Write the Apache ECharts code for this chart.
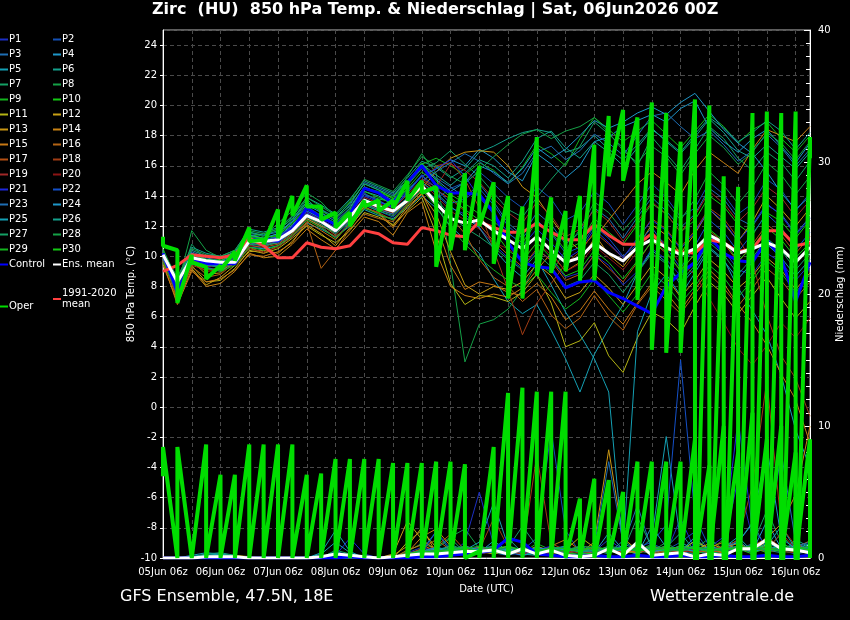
<!DOCTYPE html>
<html><head><meta charset="utf-8">
<script src="https://cdn.jsdelivr.net/npm/echarts@6/dist/echarts.min.js"></script>
<style>html,body{margin:0;padding:0;background:#000;}#c{width:850px;height:620px;}</style>
</head><body><div id="c"></div>
<script>
// ---- time axis ----
const stepHours = 6;
const dayLabels = ['05Jun 06z','06Jun 06z','07Jun 06z','08Jun 06z','09Jun 06z','10Jun 06z','11Jun 06z','12Jun 06z','13Jun 06z','14Jun 06z','15Jun 06z','16Jun 06z'];

// ---- members ----
const memberNames = ['P1','P2','P3','P4','P5','P6','P7','P8','P9','P10','P11','P12','P13','P14','P15','P16','P17','P18','P19','P20','P21','P22','P23','P24','P25','P26','P27','P28','P29','P30'];
const memberColors = ['#1c2fc4','#1450b4','#1e6eb4','#1e96c8','#14a0b4','#14a08c','#14a064','#14a046','#14b41e','#14c814','#b4b414','#c8a014','#c89614','#c88214','#c87814','#b46414','#b45014','#a03c14','#a02828','#8c1414','#1e28dc','#1450c8','#1e6eb4','#1e96c8','#14a0b4','#14a08c','#14a064','#14a046','#14b41e','#14c814'];

// 850 hPa temperature (°C) per member, 6-hourly
const tP1 = [10.2,7.8,9.6,9.3,9.0,9.6,10.8,10.5,11.2,12.0, 13.2,12.6,11.5,12.9,14.2,13.6,13.2,14.3,15.4,14.1, 13.2,12.8,11.9,10.8,9.9,9.2,10.4,9.8,8.6,8.9, 10.1,9.4,8.1,9.0,10.5,9.8,8.7,9.5,11.0,10.4, 9.1,8.8,10.2,9.6,8.4,9.5];
const tP2 = [9.8,7.4,9.9,9.6,9.3,9.9,11.3,11.0,10.8,11.5, 12.5,12.0,11.2,12.3,13.4,13.0,12.6,13.5,14.4,13.8, 14.5,14.9,15.6,14.8,13.9,13.2,14.6,13.8,12.4,12.9, 14.3,13.5,12.1,13.4,14.8,13.9,12.6,13.2,14.9,14.1, 12.8,13.5,15.1,14.4,13.0,14.2];
const tP3 = [10.4,8.2,10.3,9.9,9.7,10.1,11.5,11.4,11.6,12.3, 13.6,13.1,12.4,13.4,14.9,14.5,14.1,15.0,16.0,15.2, 14.6,13.9,14.8,13.6,12.2,11.4,12.9,12.1,10.8,11.6, 13.2,12.5,11.2,12.6,13.9,13.0,11.9,12.8,14.5,13.8, 12.5,12.0,13.4,12.8,11.5,12.6];
const tP4 = [10.0,8.4,10.1,9.8,9.6,10.0,11.2,11.1,11.3,12.1, 13.0,12.5,12.1,13.0,14.3,14.0,13.4,14.4,15.3,15.8, 16.4,16.0,17.1,16.5,15.6,15.0,16.8,16.1,15.2,16.0, 17.6,17.9,18.6,19.0,19.4,18.9,19.8,20.3,18.5,17.6, 16.9,17.8,18.4,17.3,16.2,17.5];
const tP5 = [9.6,7.6,9.5,9.2,9.1,9.5,10.6,10.5,10.7,11.3, 12.2,11.8,11.3,12.0,13.1,12.7,12.5,13.2,14.0,13.2, 12.0,11.1,10.2,8.5,7.0,6.2,6.8,5.1,3.2,1.0, 3.5,5.2,6.8,8.9,10.4,9.6,8.1,9.2,10.6,9.8, 7.9,6.4,4.8,2.1,-1.5,-4.0];
const tP6 = [10.3,8.6,10.6,10.2,10.0,10.4,11.8,11.6,11.9,12.6, 13.9,13.4,12.8,13.8,15.0,14.6,14.2,15.2,16.3,15.9, 15.2,15.8,16.9,17.3,17.8,18.2,18.4,18.2,16.9,17.2, 18.0,17.1,16.4,17.4,18.5,17.6,16.8,17.9,19.1,18.2, 17.0,16.5,17.4,16.6,15.8,16.9];
const tP7 = [9.9,8.1,10.8,9.7,9.3,9.7,11.4,11.2,11.5,12.4, 13.8,12.9,12.0,12.8,14.1,13.8,13.6,14.7,15.8,16.2, 17.0,16.1,15.3,14.2,13.1,12.6,13.9,15.1,16.2,17.3, 18.9,18.1,17.2,16.0,17.9,16.8,15.7,17.1,18.6,17.8, 16.5,15.7,16.9,16.2,15.0,16.3];
const tP8 = [10.1,8.0,11.7,10.4,9.9,10.2,11.6,11.3,12.2,13.0, 14.2,13.6,12.6,13.3,14.6,14.2,13.9,15.3,16.8,15.5, 9.5,3.0,5.5,5.8,6.5,7.8,9.6,8.9,10.4,11.8, 13.6,12.9,11.7,12.8,14.2,13.6,12.4,13.8,15.6,14.7, 13.5,14.6,16.2,15.4,14.1,15.3];
const tP9 = [9.7,7.9,9.8,9.4,9.5,9.9,11.1,11.0,11.4,12.2, 13.1,12.7,12.2,13.1,14.5,14.3,13.9,15.0,16.1,16.5, 16.0,15.4,16.2,15.7,14.8,15.9,17.4,16.8,16.0,17.8, 19.2,18.4,17.6,18.3,19.0,18.1,17.2,18.3,19.4,18.6, 17.5,18.4,18.9,17.8,16.9,18.0];
const tP10 = [10.5,8.3,10.0,9.6,9.8,10.3,11.3,11.5,11.8,12.5, 13.5,13.0,12.5,13.6,14.8,14.4,13.8,14.9,16.2,15.0, 14.1,13.5,12.8,12.3,11.5,10.9,12.3,11.6,10.4,10.9, 12.5,11.6,10.8,12.1,13.5,12.8,11.6,12.4,14.0,13.3, 12.1,11.4,12.9,12.3,11.2,12.4];
const tP11 = [9.5,7.6,9.4,8.3,8.4,9.2,10.4,10.2,10.5,11.2, 12.0,11.4,10.9,11.7,12.9,12.6,12.1,13.0,13.9,11.5, 8.2,6.8,7.4,7.3,7.0,7.6,8.8,6.9,4.0,4.4, 5.6,3.4,2.3,4.6,6.3,5.8,4.9,6.7,8.3,7.5, 6.2,7.4,8.6,7.2,5.9,7.0];
const tP12 = [9.9,7.7,9.2,8.1,8.6,9.4,10.3,10.4,10.2,11.0, 12.1,11.5,10.7,11.9,13.2,12.9,12.0,13.3,14.1,12.8, 10.3,8.1,7.5,8.0,7.8,8.3,9.5,8.7,7.2,7.6, 8.8,7.9,6.8,8.1,9.4,8.6,7.3,8.4,9.8,9.0, 7.9,8.7,9.9,9.1,7.8,8.9];
const tP13 = [10.0,7.2,9.7,8.8,8.9,9.8,10.9,10.7,10.9,11.6, 12.5,12.0,11.6,12.4,13.5,13.1,12.8,13.6,14.5,15.6, 16.5,16.9,17.0,16.9,16.0,14.6,13.9,12.5,11.2,10.4, 11.5,10.1,9.3,10.6,12.1,11.4,10.2,11.5,13.1,12.2, 11.0,12.3,14.0,13.1,12.0,13.2];
const tP14 = [9.4,7.0,9.1,8.0,8.2,9.0,10.2,9.9,10.0,10.8, 11.8,11.1,10.5,11.5,12.6,12.3,11.4,12.9,13.6,10.3, 8.0,7.4,7.2,7.5,7.3,7.9,9.1,10.2,9.0,9.6, 11.2,12.4,13.6,14.8,15.6,14.9,14.1,15.7,16.9,16.2, 15.5,17.1,18.4,18.0,17.6,18.6];
const tP15 = [9.6,6.8,9.0,8.3,8.5,9.1,10.1,10.0,10.3,10.9, 12.3,11.7,11.1,12.2,13.3,12.8,11.9,13.1,14.2,12.1, 9.4,7.8,8.3,8.1,7.6,7.4,8.2,7.3,5.8,6.4, 7.7,6.5,5.5,6.9,8.2,7.6,6.4,7.8,9.1,8.2, 6.8,5.6,4.1,2.2,0.5,-2.4];
const tP16 = [9.8,7.1,9.3,8.6,8.8,9.6,10.6,10.2,10.7,11.4, 12.2,9.2,10.4,11.8,12.8,12.5,12.3,13.4,14.3,13.6, 12.6,11.5,9.8,8.6,8.0,7.0,7.8,6.1,5.2,5.9, 7.4,6.0,5.1,6.8,8.0,7.1,6.2,7.5,8.8,7.9, 6.7,7.9,9.2,8.4,7.2,8.3];
const tP17 = [10.1,7.5,9.6,9.0,9.1,9.7,10.7,10.6,10.8,11.5, 12.6,12.1,11.4,12.5,13.6,13.2,12.9,13.9,15.0,14.4, 13.8,13.0,12.1,11.0,10.1,9.3,10.5,9.7,8.4,8.8, 10.1,9.2,8.3,9.6,11.0,10.2,9.1,10.1,11.7,10.9, 9.6,10.8,12.1,11.4,10.2,11.3];
const tP18 = [9.7,7.3,9.4,9.1,9.2,9.5,10.5,10.3,10.6,11.3, 12.4,11.9,11.3,12.1,13.2,12.9,12.4,13.5,14.8,16.0, 16.2,15.1,13.2,10.4,7.8,4.8,6.9,8.2,9.5,10.3, 11.6,10.8,9.9,11.1,12.5,11.8,10.6,11.7,13.2,12.5, 11.2,9.6,6.1,3.4,1.9,-0.6];
const tP19 = [10.2,7.8,9.8,9.3,9.4,9.9,11.0,10.9,11.1,11.9, 12.9,12.4,11.9,12.7,13.9,13.5,13.1,14.1,15.1,14.6, 16.1,15.7,14.9,13.8,12.9,12.2,13.6,12.7,11.3,11.8, 13.1,12.3,11.0,12.3,13.6,12.8,11.6,12.7,14.3,13.5, 12.3,13.2,14.6,13.9,12.6,13.7];
const tP20 = [9.9,7.7,9.7,9.5,9.3,9.8,10.9,10.8,11.0,11.7, 12.7,12.2,11.7,12.5,13.6,13.2,12.8,13.7,14.9,14.0, 13.0,12.4,11.8,10.9,10.5,9.8,10.9,10.1,9.0,9.5, 10.7,9.9,9.1,10.3,11.6,10.8,9.5,8.8,7.2,5.6, 3.9,2.8,4.1,5.6,4.6,5.9];
const tP21 = [10.0,7.9,9.9,9.6,9.5,9.9,11.1,11.0,11.2,11.9, 12.9,12.4,11.9,12.9,14.0,13.6,13.3,14.2,15.3,15.8, 16.4,15.3,13.9,12.8,11.6,10.7,11.8,10.9,9.8,10.4, 11.8,10.9,9.9,11.2,12.4,11.7,10.5,11.6,13.1,12.3, 11.0,12.1,13.5,12.7,11.4,12.5];
const tP22 = [10.3,8.2,10.0,9.7,9.6,10.0,11.2,11.1,11.3,12.0, 13.0,12.6,12.0,12.9,14.1,13.7,13.2,14.2,15.4,14.5, 13.5,13.8,14.5,13.4,12.0,11.2,12.4,11.5,10.2,10.6, 12.0,11.2,10.0,10.8,11.9,10.6,9.2,10.7,12.4,11.6, 10.3,11.5,12.8,11.9,10.4,11.6];
const tP23 = [9.8,7.9,9.6,9.4,9.3,9.7,10.9,10.7,11.0,11.8, 12.8,12.2,11.6,12.4,13.5,13.1,12.8,13.8,15.0,15.6, 16.2,16.8,16.3,15.5,14.8,15.5,16.9,17.3,16.4,17.0, 18.1,17.5,16.7,18.0,19.3,19.5,18.6,17.8,18.3,17.4, 16.3,17.0,18.1,17.2,16.0,17.1];
const tP24 = [10.1,8.3,10.2,9.8,9.7,10.1,11.4,11.2,11.5,12.3, 13.4,12.9,12.3,13.2,14.6,14.2,13.7,14.8,15.9,15.1, 14.3,14.9,16.0,15.6,14.9,15.8,17.2,16.5,17.1,18.0, 19.0,18.5,18.9,19.5,19.9,19.4,20.2,20.8,19.6,18.4, 17.5,16.8,15.6,14.2,13.1,14.0];
const tP25 = [9.9,7.8,9.7,9.4,9.4,9.8,11.0,10.8,11.1,11.8, 12.8,12.3,11.8,12.7,13.8,13.4,13.0,13.9,14.9,14.2, 13.3,12.6,11.9,10.5,9.4,8.6,9.8,8.1,6.3,4.8, 3.2,1.0,-9.5,5.0,7.6,8.8,7.4,8.9,10.5,9.7, 8.5,9.6,10.8,9.9,8.7,9.8];
const tP26 = [10.2,8.4,10.4,10.0,9.9,10.3,11.6,11.4,11.7,12.5, 13.6,13.1,12.6,13.5,14.8,14.4,14.0,15.0,16.1,15.4, 14.7,15.5,16.4,16.0,15.2,16.3,17.8,18.3,17.2,16.5, 17.6,16.9,16.0,17.2,18.4,17.7,16.9,18.1,19.2,18.5, 17.6,18.2,19.0,18.3,17.1,18.2];
const tP27 = [10.0,7.7,9.8,9.5,9.2,9.6,10.8,10.7,10.9,11.6, 12.6,12.1,11.5,12.3,13.4,13.0,12.7,13.6,14.6,13.8, 12.7,11.9,11.3,10.6,9.8,9.1,10.2,9.3,8.0,8.4, 9.6,8.8,7.6,8.9,10.2,9.5,8.3,9.4,10.9,10.1, 8.8,9.9,11.2,10.4,9.1,10.2];
const tP28 = [10.4,8.5,10.5,10.1,10.0,10.4,11.7,11.5,11.8,12.7, 13.9,13.3,12.7,13.7,15.1,14.7,14.3,15.4,16.6,16.0, 15.3,14.8,15.7,16.6,17.4,18.1,18.4,17.8,18.3,18.6, 19.2,18.2,17.0,16.2,17.3,16.6,15.4,16.8,18.0,17.2, 16.1,16.9,18.2,17.5,16.4,17.6];
const tP29 = [9.6,7.5,9.5,9.2,9.0,9.4,10.6,10.4,10.7,11.4, 12.4,11.9,11.2,12.1,13.2,12.8,12.4,13.4,14.4,13.3, 11.9,10.8,9.9,9.1,8.4,7.9,8.8,7.6,6.5,7.2, 8.5,7.4,6.3,7.5,8.9,8.1,6.9,8.0,9.4,8.6, 7.3,8.4,9.7,8.9,7.6,8.8];
const tP30 = [10.3,8.0,10.1,9.8,9.7,10.2,11.3,11.2,11.4,12.2, 13.3,12.7,12.2,13.0,14.3,13.9,13.5,14.5,15.6,14.8, 13.9,13.1,12.4,11.7,10.4,9.7,10.9,9.9,8.7,9.1, 10.4,9.6,8.5,9.7,11.0,10.3,9.0,10.2,11.8,11.0, 9.7,10.6,11.9,11.1,9.9,10.9];

// precipitation (mm) per member, 6-hourly
const pP1 = [0,0,0,0,0,0,0,0,0,0, 0,0,0.3,0.2,0,0,0,0.4,0.8,0.5, 0.3,1.2,5.0,1.0,0.4,0.2,0.6,0.3,0,0.2, 0.5,1.4,0.6,0.3,0.8,0.4,3.0,0.6,0.2,0.9, 6.0,1.5,0.5,0.8,0.3,0.6];
const pP2 = [0,0,0,0.1,0.1,0,0,0,0,0, 0,0,0,0,0,0,0,0,0.2,0.6, 0.4,0.3,0.8,0.5,0.9,0.6,1.5,9.7,2.1,0.4, 0.3,0.5,0.9,0.4,1.1,0.6,1.2,2.0,0.5,0.3, 0.7,0.4,1.2,0.6,0.3,0.5];
const pP3 = [0,0,0,0,0,0,0,0,0,0, 0,0,0.5,0.2,0,0,0,0.3,0.6,2.0, 0.5,0.2,0.6,0.4,0.2,0.5,0.3,0.8,0.4,0.2, 0.6,0.3,1.0,4.0,0.6,0.2,0.5,0.3,0.9,0.4, 0.6,1.1,0.8,8.0,1.2,0.6];
const pP4 = [0,0,0,0,0,0,0,0,0,0, 0,0,0,0,0,0,0,0,0,0.3, 0.6,0.9,0.4,1.3,0.5,0.2,0.4,0.3,0.6,0.8, 0.4,1.9,0.6,0.3,2.4,0.8,0.5,1.6,0.4,0.9, 1.3,0.5,2.8,0.7,1.0,0.4];
const pP5 = [0,0,0.2,0.4,0.3,0.1,0,0,0,0, 0,0.4,2.1,0.5,0,0,0,0,0.3,0.2, 0.4,0.6,1.2,4.2,0.9,0.3,0.2,0.5,0.9,0.3, 0.6,0.4,0.8,0.5,1.5,9.2,1.2,0.6,0.4,0.8, 1.6,0.5,0.9,2.4,0.7,1.1];
const pP6 = [0,0,0.1,0.3,0.4,0.2,0,0,0,0, 0,0,0.4,0.2,0,0,0,0.2,0.5,0.3, 1.0,0.6,0.3,0.8,1.5,0.4,0.3,0.9,0.5,0.2, 0.7,0.4,1.3,0.6,0.3,0.8,1.9,0.5,0.3,0.6, 1.2,2.7,0.6,0.4,1.4,0.8];
const pP7 = [0,0,0,0.2,0.3,0.2,0,0,0,0, 0,0,0.6,0.3,0,0,0,0.5,1.1,0.7, 1.5,0.4,0.3,0.6,0.8,2.4,0.9,0.4,0.3,0.6, 0.4,0.9,0.5,3.1,0.8,0.4,0.6,1.3,0.5,0.8, 0.6,1.0,3.6,1.2,0.5,0.9];
const pP8 = [0,0,0,0,0,0,0,0,0,0, 0,0,0.3,0.1,0,0,0,0.2,0.4,0.8, 1.6,2.2,0.7,0.4,0.3,0.5,0.8,0.3,0.5,0.9, 0.3,0.6,0.4,0.8,0.5,1.2,0.4,0.7,1.5,0.6, 0.9,0.4,0.7,1.8,0.5,0.7];
const pP9 = [0,0,0,0,0,0,0,0,0,0, 0,0,0,0,0,0,0,0.1,0.3,0.5, 0.9,0.4,0.6,0.3,0.7,0.4,1.1,0.6,0.3,0.4, 0.8,0.5,0.3,0.6,1.0,0.4,0.7,0.3,0.6,1.4, 0.5,0.8,0.4,1.1,0.6,0.3];
const pP10 = [0,0,0,0,0,0,0,0,0,0, 0,0,0,0,0,0,0,0.3,0.6,0.4, 0.8,0.5,0.3,0.7,0.4,0.6,0.3,0.5,0.8,0.4, 0.3,0.7,0.5,0.4,0.9,0.3,0.6,0.8,0.4,0.5, 0.7,0.3,0.9,0.5,0.4,0.6];
const pP11 = [0,0,0,0.1,0.2,0.1,0,0,0,0, 0,0,0,0,0,0,0,1.2,2.1,0.8, 0.5,0.7,0.4,0.6,0.9,0.5,0.4,0.8,0.6,1.6, 0.8,0.5,0.7,0.4,0.6,0.9,0.5,1.3,0.7,0.4, 0.8,0.6,1.0,0.5,0.7,0.4];
const pP12 = [0,0,0,0,0.1,0.2,0.1,0,0,0, 0,0,0,0,0,0,0.3,2.8,1.4,0.6, 0.4,0.3,0.9,0.5,0.7,0.4,0.6,0.3,0.8,0.5, 0.4,0.7,0.6,0.9,0.5,0.8,0.4,0.6,1.1,0.7, 0.5,0.9,0.6,0.8,0.4,0.7];
const pP13 = [0,0,0,0,0,0,0,0,0,0, 0,0,0,0,0,0,0.2,0.9,2.3,0.4, 0.6,0.8,0.5,0.3,0.6,0.4,0.9,0.5,0.7,0.4, 1.2,8.2,1.5,0.6,0.4,0.8,0.5,0.9,0.6,0.4, 0.7,0.5,1.3,0.6,0.9,0.5];
const pP14 = [0,0,0,0,0,0,0,0,0,0, 0,0,0,0,0,0,0,0.4,1.6,2.2, 0.9,0.5,0.4,0.6,0.3,0.8,0.5,0.4,0.7,0.5, 0.6,0.8,0.4,0.5,0.9,0.6,0.7,0.4,0.8,1.2, 0.6,0.9,1.5,2.6,4.8,10.0];
const pP15 = [0,0,0,0,0,0,0,0,0,0, 0,0,0,0,0,0,0,0.6,1.0,0.5, 0.3,0.6,0.8,0.4,0.5,0.7,0.3,0.9,1.4,0.6, 0.5,0.8,0.6,0.4,0.7,0.5,0.9,0.6,0.4,0.8, 1.1,0.6,0.8,0.5,0.9,0.7];
const pP16 = [0,0,0,0,0,0,0,0,0,0, 0,0,0,0,0,0,0,0.3,0.7,1.4, 0.6,0.4,0.5,0.8,0.6,0.3,0.7,0.5,0.4,0.6, 0.8,0.5,0.7,0.9,0.4,0.6,0.5,0.8,0.6,0.4, 0.9,0.7,0.5,0.6,0.8,1.3];
const pP17 = [0,0,0,0,0,0,0,0,0,0, 0,0,0,0,0,0,0,0.2,0.5,0.9, 1.8,0.6,0.3,0.5,0.4,0.7,0.5,0.3,0.6,0.8, 0.4,0.6,0.5,0.7,0.3,0.5,0.8,0.4,0.6,0.9, 0.5,0.7,1.6,0.8,0.6,0.4];
const pP18 = [0,0,0,0,0,0,0,0,0,0, 0,0,0,0,0,0,0,0.2,0.4,0.6, 0.5,0.9,0.6,3.0,0.8,0.5,7.8,1.1,0.6,0.4, 0.7,0.5,0.8,0.6,0.4,0.9,0.6,0.5,0.8,0.7, 1.4,5.5,13.5,2.4,0.9,0.6];
const pP19 = [0,0,0,0,0,0,0,0,0,0, 0,0,0,0,0,0,0,0.1,0.3,0.5, 0.7,0.4,0.6,0.9,0.5,0.3,0.6,0.8,0.4,0.5, 0.6,0.4,0.7,0.5,0.8,0.6,0.4,0.7,0.5,0.6, 0.8,0.9,0.6,1.9,0.7,0.5];
const pP20 = [0,0,0,0,0,0,0,0,0,0, 0,0,0,0,0,0,0,0,0.2,0.4, 0.6,0.3,0.5,0.7,0.4,0.6,0.5,0.3,0.7,0.4, 0.5,0.6,0.4,0.8,0.5,0.7,0.6,0.4,0.9,0.5, 0.7,0.6,0.8,0.5,0.4,0.6];
const pP21 = [0,0,0,0,0,0,0,0,0,0, 0,0,0.2,1.5,0.3,0,0,0.3,0.5,0.8, 0.6,0.4,0.7,0.5,0.8,0.4,0.6,0.9,0.5,0.7, 0.4,0.6,0.8,0.5,0.7,0.6,0.9,0.5,0.8,1.6, 10.5,2.2,0.9,0.6,0.8,0.5];
const pP22 = [0,0,0,0,0,0,0,0,0,0, 0,0,0,0,0,0,0,0.2,0.4,2.0, 0.7,0.5,0.9,0.6,0.4,0.8,0.5,0.6,0.9,0.4, 0.7,0.5,0.6,0.8,1.2,2.5,15.0,3.1,0.8,0.5, 0.6,0.9,0.5,0.7,0.6,0.8];
const pP23 = [0,0,0,0,0,0,0,0,0,0, 0,0,0,0,0,0,0,0.1,0.3,0.6, 0.4,0.8,0.5,0.7,0.6,0.4,0.8,0.5,0.7,0.6, 0.9,7.3,1.1,0.6,0.5,0.7,0.6,0.8,0.5,0.7, 0.6,0.8,0.7,0.5,0.9,1.2];
const pP24 = [0,0,0,0,0,0,0,0,0,0, 0,0,0,0,0,0,0,0.2,0.4,0.7, 0.5,0.9,0.6,0.4,0.7,0.5,0.8,0.6,0.4,0.9, 0.5,0.7,0.6,0.8,0.5,0.6,0.9,0.7,0.5,0.8, 1.2,2.6,8.4,1.5,0.7,0.9];
const pP25 = [0,0,0.1,0.2,0.3,0.1,0,0,0,0, 0,0.3,1.2,0.4,0,0,0,0.2,0.5,0.8, 0.6,0.4,0.7,0.9,0.5,0.6,0.4,0.8,0.6,0.5, 0.7,0.6,0.9,0.5,0.8,0.6,0.7,0.5,0.9,0.6, 0.8,0.5,0.7,0.9,0.6,0.8];
const pP26 = [0,0,0,0.1,0.2,0.1,0,0,0,0, 0,0,0.3,0.2,0,0,0,0.2,0.4,0.6, 0.9,0.5,0.7,0.4,0.8,0.6,0.5,0.7,0.9,0.4, 0.6,0.8,0.5,0.7,0.6,0.9,0.5,0.8,0.6,0.7, 0.9,0.6,1.1,0.7,0.8,0.5];
const pP27 = [0,0,0,0,0,0,0,0,0,0, 0,0,0.2,0.1,0,0,0,0.3,0.6,0.4, 0.8,0.6,0.5,0.9,0.4,0.7,0.6,0.5,0.8,0.6, 0.5,0.9,0.7,0.6,0.8,0.5,0.7,0.9,0.6,0.8, 0.5,0.7,0.9,0.6,0.8,0.7];
const pP28 = [0,0,0,0,0,0,0,0,0,0, 0,0,0,0,0,0,0,0.1,0.3,0.5, 0.7,0.9,0.4,0.6,0.8,0.5,0.7,0.4,0.6,0.9, 0.8,0.5,0.7,0.6,0.9,0.7,0.5,0.8,0.7,0.6, 0.8,0.9,0.6,0.7,0.5,0.8];
const pP29 = [0,0,0,0,0,0,0,0,0,0, 0,0,0,0,0,0,0,0.2,0.4,0.6, 0.5,0.7,0.9,0.6,0.4,0.8,0.6,0.7,0.5,0.8, 0.6,0.4,0.8,0.7,0.5,0.9,0.6,0.8,0.7,0.5, 0.9,0.7,0.6,0.8,0.7,0.9];
const pP30 = [0,0,0,0,0,0,0,0,0,0, 0,0,0,0,0,0,0,0.3,0.5,0.4, 0.6,0.8,0.5,0.7,0.9,0.6,0.4,0.8,0.7,0.5, 0.9,0.6,0.8,0.5,0.7,0.6,0.9,0.7,0.5,0.8, 0.6,0.9,0.7,0.5,0.8,0.6];

// control, ensemble mean, climatology
const controlTemp = [10.2,7.6,9.9,9.5,9.5,9.5,11.1,11.1,11.0,11.8, 13.2,12.6,12.1,12.8,14.5,14.2,13.5,14.9,16.0,14.7, 14.2,14.2,14.1,12.9,10.9,9.6,9.3,9.2,7.9,8.3, 8.4,7.6,7.2,6.7,6.2,8.0,8.9,9.6,11.3,10.2, 9.7,9.6,11.1,9.9,7.0,9.6];
const controlPrecip = [0,0,0,0,0,0,0,0,0,0, 0,0,0,0.1,0,0,0,0,0.1,0.1, 0.2,0.3,0.4,0.6,1.5,1.2,0.3,0.2,0.1,0.1, 0.2,0.1,0.1,0.2,0.1,0.1,0.2,0.1,0.1,0.2, 0.1,0.1,0.2,0.1,0.1,0.2];
const meanTemp = [10.1,8.3,9.9,9.7,9.6,9.6,11.0,11.0,11.1,11.7, 12.7,12.3,11.7,12.6,13.7,13.3,13.0,13.7,14.7,13.5, 12.5,12.2,12.4,11.7,11.1,10.5,11.3,10.4,9.6,9.9, 10.9,10.2,9.7,10.6,11.1,10.6,10.1,10.5,11.4,10.9, 10.2,10.5,10.9,10.5,9.6,10.6];
const meanPrecip = [0,0,0,0.1,0.1,0.1,0,0,0,0, 0,0.1,0.3,0.2,0.1,0,0.1,0.2,0.3,0.3, 0.4,0.5,0.5,0.6,0.3,0.7,0.3,0.6,0.2,0.1, 0.2,0.7,0.2,1.2,0.2,0.3,0.4,0.1,0.3,0.2, 0.7,0.7,1.4,0.7,0.6,0.4];
const climTemp = [9.0,9.4,10.1,10.0,9.9,10.1,11.2,10.7,9.9,9.9, 10.9,10.6,10.5,10.7,11.7,11.5,10.9,10.8,11.9,11.7, 11.4,11.3,12.3,11.9,11.6,11.6,12.2,11.6,11.1,11.1, 12.1,11.4,10.8,10.8,11.5,10.5,10.3,10.2,11.1,10.9, 10.3,10.5,11.7,11.7,10.7,10.9];

// operational run: two values at every time step (first, second)
const operTempFirst = [11.3,10.4,10.1,9.3,9.4,10.3,11.9,11.1,13.1,14.0, 14.7,13.3,12.9,12.9,13.7,13.7,13.7,15.0,15.0,14.6, 14.2,15.5,16.0,14.9,14.0,13.3,17.9,13.9,13.0,14.0, 17.4,19.3,19.7,19.2,20.2,19.5,17.6,20.4,20.0,15.3, 14.6,19.5,19.6,19.5,19.6,17.9];
const operTempSecond = [10.7,6.9,9.6,8.5,9.1,9.7,11.0,10.8,11.2,12.7, 13.3,12.4,11.9,12.0,13.3,13.0,13.2,13.7,14.2,9.3, 10.4,10.4,12.0,9.5,7.2,7.2,8.7,8.9,9.0,8.4, 8.4,15.3,15.0,7.1,3.8,3.6,3.6,-15,-15,-15, -15,-15,-15,-15,-15,16.5];
const operPrecipFirst = [6.2,0,0,8.6,6.3,6.3,8.6,8.6,8.6,8.6, 6.3,6.4,7.5,7.5,7.5,7.5,7.2,7.2,7.2,7.3, 7.3,7.1,0.5,8.4,12.5,12.9,12.6,12.6,12.6,4.5, 6.0,5.9,5.0,7.3,7.3,7.3,7.3,9.0,7.0,10.0, 8.0,11.0,9.0,10.0,8.0,9.0];
const operPrecipSecond = [8.4,8.4,0,0,0,0,0,0,0,0, 0,0,0,0,0,0,0,0,0,0, 0,0,0,0,0,0,0,0,0,0, 0,0,0,0,0,0,0,0,0,0, 0,0,0,0,0,0];

const memberTemp = [tP1,tP2,tP3,tP4,tP5,tP6,tP7,tP8,tP9,tP10,tP11,tP12,tP13,tP14,tP15,tP16,tP17,tP18,tP19,tP20,tP21,tP22,tP23,tP24,tP25,tP26,tP27,tP28,tP29,tP30];
const memberPrecip = [pP1,pP2,pP3,pP4,pP5,pP6,pP7,pP8,pP9,pP10,pP11,pP12,pP13,pP14,pP15,pP16,pP17,pP18,pP19,pP20,pP21,pP22,pP23,pP24,pP25,pP26,pP27,pP28,pP29,pP30];

const toXY = arr => arr.map((v, i) => [i * stepHours, v]);
const pairXY = (a, b) => { const out = []; a.forEach((v, i) => { out.push([i * stepHours, v]); out.push([i * stepHours, b[i]]); }); return out; };

const series = [];
memberNames.forEach((name, m) => {
  const base = {name, type: 'line', showSymbol: false, symbol: 'none', color: memberColors[m], lineStyle: {width: 1}, z: 2, animation: false, silent: true};
  series.push(Object.assign({}, base, {yAxisIndex: 0, data: toXY(memberTemp[m])}));
  series.push(Object.assign({}, base, {yAxisIndex: 1, data: toXY(memberPrecip[m])}));
});
const thick = (name, color, width, z) => ({name, type: 'line', showSymbol: false, symbol: 'none', color, lineStyle: {width}, z, animation: false, silent: true});
series.push(Object.assign(thick('Control', '#0000ff', 3, 3), {yAxisIndex: 0, data: toXY(controlTemp)}));
series.push(Object.assign(thick('Control', '#0000ff', 3, 3), {yAxisIndex: 1, data: toXY(controlPrecip)}));
series.push(Object.assign(thick('1991-2020\nmean', '#ff4040', 3, 4), {yAxisIndex: 0, data: toXY(climTemp)}));
series.push(Object.assign(thick('Ens. mean', '#ffffff', 3, 5), {yAxisIndex: 0, data: toXY(meanTemp)}));
series.push(Object.assign(thick('Ens. mean', '#ffffff', 3, 5), {yAxisIndex: 1, data: toXY(meanPrecip)}));
series.push(Object.assign(thick('Oper', '#00dd00', 4, 6), {yAxisIndex: 0, data: pairXY(operTempFirst, operTempSecond)}));
series.push(Object.assign(thick('Oper', '#00dd00', 4, 6), {yAxisIndex: 1, data: pairXY(operPrecipFirst, operPrecipSecond)}));

const col1 = memberNames.filter((n, i) => i % 2 === 0).concat(['Control']);
const col2 = memberNames.filter((n, i) => i % 2 === 1).concat(['Ens. mean']);
const legendText = {color: '#fff', fontSize: 10, lineHeight: 13, fontFamily: 'DejaVu Sans', padding: [0, 0, 0, -4]};
const legendBase = {orient: 'vertical', icon: 'rect', itemWidth: 8, itemHeight: 2, itemGap: 2, selectedMode: false, textStyle: legendText, padding: 0};

const chart = echarts.init(document.getElementById('c'), null, {renderer: 'canvas'});
chart.setOption({
  backgroundColor: '#000',
  animation: false,
  textStyle: {fontFamily: 'DejaVu Sans'},
  title: [
    {text: 'Zirc  (HU)  850 hPa Temp. & Niederschlag | Sat, 06Jun2026 00Z', left: 152, top: 2, padding: 0,
     textStyle: {color: '#fff', fontSize: 16, fontWeight: 'bold', fontFamily: 'DejaVu Sans'}},
    {text: 'GFS Ensemble, 47.5N, 18E', left: 120, top: 589, padding: 0,
     textStyle: {color: '#fff', fontSize: 16, fontWeight: 'normal', fontFamily: 'DejaVu Sans'}},
    {text: 'Wetterzentrale.de', left: 650, top: 589, padding: 0,
     textStyle: {color: '#fff', fontSize: 16, fontWeight: 'normal', fontFamily: 'DejaVu Sans'}}
  ],
  legend: [
    Object.assign({}, legendBase, {left: 0, top: 33, data: col1}),
    Object.assign({}, legendBase, {left: 53, top: 33, data: col2}),
    Object.assign({}, legendBase, {left: 0, top: 300, data: ['Oper']}),
    Object.assign({}, legendBase, {left: 53, top: 288, data: ['1991-2020\nmean'], textStyle: Object.assign({}, legendText, {lineHeight: 11})})
  ],
  grid: {left: 163, right: 40, top: 30, bottom: 62, outerBoundsMode: 'none', containLabel: false,
         show: true, borderColor: '#bbb', borderWidth: 1, backgroundColor: 'transparent'},
  xAxis: {
    type: 'value', min: 0, max: 270, interval: 12,
    axisLine: {show: true, onZero: false, lineStyle: {color: '#fff', width: 1}},
    axisTick: {show: false},
    axisLabel: {color: '#fff', fontSize: 10, margin: 9, showMaxLabel: false,
      formatter: v => (v % 24 === 0 ? (dayLabels[v / 24] || '') : '')},
    splitLine: {show: true, lineStyle: {color: '#4a4a4a', type: [4, 3], width: 1}},
    name: 'Date (UTC)', nameLocation: 'middle', nameGap: 26, nameMoveOverlap: false,
    nameTextStyle: {color: '#fff', fontSize: 10}
  },
  yAxis: [
    {type: 'value', min: -10, max: 25, interval: 2, position: 'left',
     axisLine: {show: true, onZero: false, lineStyle: {color: '#fff'}},
     axisTick: {show: true, length: 3, lineStyle: {color: '#fff'}},
     axisLabel: {color: '#fff', fontSize: 10, margin: 6, showMaxLabel: false},
     splitLine: {show: true, lineStyle: {color: '#4a4a4a', type: [4, 3], width: 1}},
     name: '850 hPa Temp. (°C)', nameLocation: 'middle', nameGap: 27, nameRotate: 90, nameMoveOverlap: false,
     nameTextStyle: {color: '#fff', fontSize: 10}},
    {type: 'value', min: 0, max: 40, interval: 10, position: 'right',
     axisLine: {show: true, onZero: false, lineStyle: {color: '#fff'}},
     axisTick: {show: true, inside: true, length: 6, lineStyle: {color: '#fff'}},
     minorTick: {show: true, splitNumber: 10, length: 4, lineStyle: {color: '#fff'}},
     axisLabel: {color: '#fff', fontSize: 10, margin: 8},
     splitLine: {show: false},
     name: 'Niederschlag (mm)', nameLocation: 'middle', nameGap: 25, nameRotate: 90, nameMoveOverlap: false,
     nameTextStyle: {color: '#fff', fontSize: 10}}
  ],
  series
});
</script></body></html>
